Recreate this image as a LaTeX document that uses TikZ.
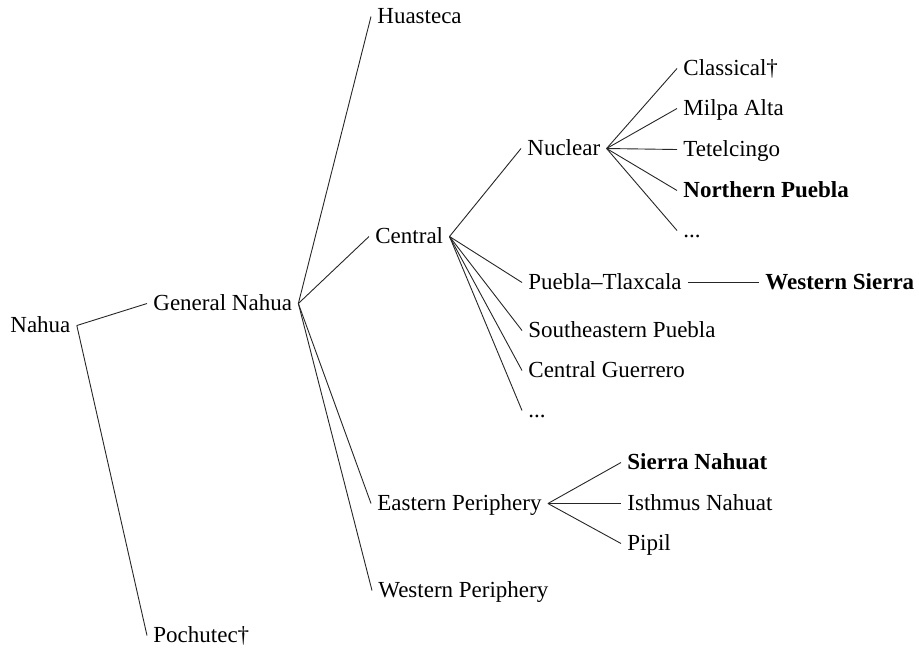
\documentclass[tikz,border=0pt]{standalone}
\usepackage{fontspec}
\setmainfont{Liberation Serif}

\begin{document}
\begin{tikzpicture}[x=0.5pt, y=-0.5pt, font=\fontsize{11.5}{14}\selectfont,
  lang/.style={anchor=base west, inner xsep=3pt, inner ysep=0pt, text height=0.95em, text depth=0.3em},
  branch/.style={line width=0.45pt, black!85}]
\useasboundingbox (0,0) rectangle (919,649);

% Top level
\node[lang] (nahua) at (4,332) {Nahua};
\node[lang] (gen) at (147,310) {General Nahua};
\node[lang] (poch) at (147,642) {Pochutec\textdagger};
\draw[branch] (nahua.east) -- (gen.west);
\draw[branch] (nahua.east) -- (poch.west);

% General Nahua
\node[lang] (hua) at (371,23) {Huasteca};
\node[lang] (cen) at (369,243) {Central};
\node[lang] (east) at (371,510) {Eastern Periphery};
\node[lang] (west) at (372,597) {Western Periphery};
\foreach \c in {hua,cen,east,west}
  \draw[branch] (gen.east) -- (\c.west);

% Central
\node[lang] (nuc) at (521,155) {Nuclear};
\node[lang] (ptl) at (522,289) {Puebla--Tlaxcala};
\node[lang] (sep) at (522,337) {Southeastern Puebla};
\node[lang] (cgu) at (522,377) {Central Guerrero};
\node[lang] (cdots) at (522,417) {...};
\foreach \c in {nuc,ptl,sep,cgu,cdots}
  \draw[branch] (cen.east) -- (\c.west);

% Nuclear
\node[lang] (cla) at (677,75) {Classical\textdagger};
\node[lang] (mil) at (677,115) {Milpa Alta};
\node[lang] (tet) at (677,156) {Tetelcingo};
\node[lang, font=\fontsize{11.5}{14}\selectfont\bfseries] (nor) at (677,197) {Northern Puebla};
\node[lang] (ndots) at (677,237) {...};
\foreach \c in {cla,mil,tet,nor,ndots}
  \draw[branch] (nuc.east) -- (\c.west);

% Puebla--Tlaxcala
\node[lang, font=\fontsize{11.5}{14}\selectfont\bfseries] (wsi) at (759,289) {Western Sierra};
\draw[branch] (ptl.east) -- (wsi.west);

% Eastern Periphery
\node[lang, font=\fontsize{11.5}{14}\selectfont\bfseries] (sna) at (621,469) {Sierra Nahuat};
\node[lang] (ina) at (621,510) {Isthmus Nahuat};
\node[lang] (pip) at (621,550) {Pipil};
\foreach \c in {sna,ina,pip}
  \draw[branch] (east.east) -- (\c.west);
\end{tikzpicture}
\end{document}
